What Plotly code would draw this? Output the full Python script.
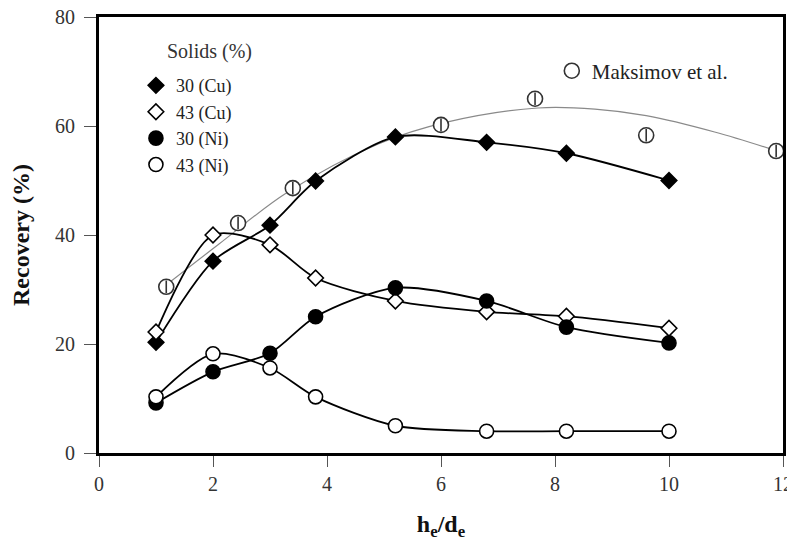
import plotly.graph_objects as go

# ---- data ----
x_vals = [1.0, 2.0, 3.0, 3.8, 5.2, 6.8, 8.2, 10.0]
cu30 = [20.3, 35.2, 41.8, 49.9, 58.0, 57.0, 55.0, 50.0]
cu43 = [22.2, 40.0, 38.2, 32.1, 27.9, 25.9, 25.1, 22.9]
ni30 = [9.2, 14.9, 18.3, 25.0, 30.3, 27.9, 23.1, 20.2]
ni43 = [10.3, 18.2, 15.6, 10.3, 5.0, 4.0, 4.0, 4.0]

maks_x = [1.18, 2.44, 3.4, 6.0, 7.65, 9.6, 11.88]
maks_y = [30.5, 42.2, 48.6, 60.2, 65.0, 58.3, 55.4]

# trend curve drawn through the Maksimov et al. data
fit_x = [1.2, 2.1, 3.3, 4.9, 6.1, 7.7, 8.7, 9.6, 10.8, 11.9]
fit_y = [31.0, 38.3, 47.8, 56.7, 60.7, 63.3, 63.1, 61.9, 58.9, 55.4]

legend_title = "Solids (%)"

series = [
    ("30 (Cu)", cu30, "diamond", "black"),
    ("43 (Cu)", cu43, "diamond", "white"),
    ("30 (Ni)", ni30, "circle", "black"),
    ("43 (Ni)", ni43, "circle", "white"),
]

FONT = "Liberation Serif"
fig = go.Figure()

# grey trend line
fig.add_trace(go.Scatter(x=fit_x, y=fit_y, mode="lines", showlegend=False,
                         line=dict(color="#8a8a8a", width=1.2, shape="spline", smoothing=1.0),
                         hoverinfo="skip"))

# series lines (no legend)
for name, ys, sym, fill in series:
    fig.add_trace(go.Scatter(x=x_vals, y=ys, mode="lines", showlegend=False,
                             line=dict(color="black", width=1.8, shape="spline", smoothing=0.8),
                             hoverinfo="skip"))

# series markers (legend)
for name, ys, sym, fill in series:
    fig.add_trace(go.Scatter(x=x_vals, y=ys, mode="markers", name=name, legend="legend",
                             marker=dict(symbol=sym, size=14 if sym == "circle" else 12,
                                         color=fill, line=dict(color="black", width=1.6))))

# Maksimov markers
fig.add_trace(go.Scatter(x=maks_x, y=maks_y, mode="markers", name="Maksimov et al.",
                         legend="legend2",
                         marker=dict(symbol="circle", size=15, color="white",
                                     line=dict(color="#333", width=1.6))))
fig.add_trace(go.Scatter(x=maks_x, y=maks_y, mode="markers", showlegend=False,
                         marker=dict(symbol="line-ns", size=9,
                                     line=dict(color="#333", width=1.6))))

fig.add_annotation(text=legend_title, xref="paper", yref="paper",
                   x=0.096, y=0.922, xanchor="left", yanchor="middle", showarrow=False,
                   font=dict(family=FONT, size=20, color="#333"))

# page body adds an 8px offset, so the figure is 8px smaller and margins shifted
fig.update_layout(
    width=787, height=534,
    margin=dict(l=91, r=12, t=9, b=89),
    paper_bgcolor="white", plot_bgcolor="white",
    font=dict(family=FONT, size=20, color="#222"),
    legend=dict(x=0.054, y=0.885, xanchor="left", yanchor="top",
                bgcolor="rgba(0,0,0,0)", font=dict(family=FONT, size=18, color="#222"),
                tracegroupgap=0, itemwidth=30),
    legend2=dict(x=0.662, y=0.923, xanchor="left", yanchor="top",
                 bgcolor="rgba(0,0,0,0)", font=dict(family=FONT, size=21, color="#222")),
    xaxis=dict(range=[0, 12], tick0=0, dtick=2, ticks="outside", ticklen=11, tickwidth=1,
               tickcolor="#555", showline=True, linewidth=3, linecolor="black", mirror=True,
               showgrid=False, zeroline=False, automargin=False, ticklabelstandoff=0,
               ticklabeloverflow="allow",
               tickfont=dict(family=FONT, size=20, color="#333"),
               title=dict(text="<b>h<sub>e</sub>/d<sub>e</sub></b>", font=dict(family=FONT, size=24, color="#111"),
                          standoff=22)),
    yaxis=dict(range=[0, 80], tick0=0, dtick=20, ticks="outside", ticklen=12, tickwidth=1,
               tickcolor="#555", showline=True, linewidth=3, linecolor="black", mirror=True,
               showgrid=False, zeroline=False, automargin=False, ticklabelstandoff=5,
               ticklabeloverflow="allow",
               tickfont=dict(family=FONT, size=20, color="#333"),
               title=dict(text="<b>Recovery (%)</b>", font=dict(family=FONT, size=24, color="#111"),
                          standoff=30)),
)

fig.write_html("out.html")
